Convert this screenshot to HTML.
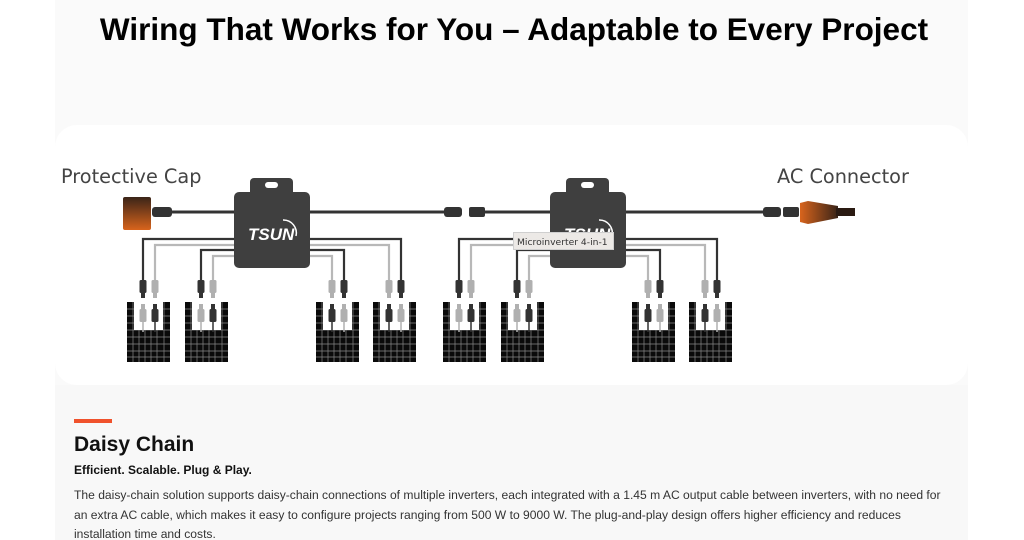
<!DOCTYPE html>
<html><head><meta charset="utf-8"><style>
html,body{margin:0;padding:0;background:#fff;width:1024px;height:540px;overflow:hidden;font-family:"Liberation Sans",sans-serif}
</style></head><body>
<svg width="1024" height="540" viewBox="0 0 1024 540" xmlns="http://www.w3.org/2000/svg" style="position:absolute;left:0;top:0">
<defs>
<linearGradient id="cap" x1="0" y1="0" x2="0" y2="1"><stop offset="0" stop-color="#3a2418"/><stop offset="1" stop-color="#d8641c"/></linearGradient>
<linearGradient id="ac" x1="0" y1="0" x2="1" y2="0"><stop offset="0" stop-color="#d8641c"/><stop offset="1" stop-color="#3a2418"/></linearGradient>
<g id="grid">
<rect x="0" y="0" width="43" height="60" fill="#0a0a0a"/>
<g stroke="#888" stroke-width="0.7">
<line x1="6" y1="0" x2="6" y2="60"/><line x1="12" y1="0" x2="12" y2="60"/><line x1="18" y1="0" x2="18" y2="60"/><line x1="24" y1="0" x2="24" y2="60"/><line x1="30" y1="0" x2="30" y2="60"/><line x1="37" y1="0" x2="37" y2="60"/>
<line x1="0" y1="7" x2="43" y2="7"/><line x1="0" y1="14" x2="43" y2="14"/><line x1="0" y1="21" x2="43" y2="21"/><line x1="0" y1="28" x2="43" y2="28"/><line x1="0" y1="35" x2="43" y2="35"/><line x1="0" y1="42" x2="43" y2="42"/><line x1="0" y1="49" x2="43" y2="49"/><line x1="0" y1="55" x2="43" y2="55"/>
</g>
<rect x="7" y="0" width="29" height="28" fill="#fff"/>
</g>
<g id="plugD"><rect x="-3.5" y="0" width="7" height="13" rx="1.5" fill="#333"/><rect x="-2" y="13" width="4" height="5" fill="#333"/></g>
<g id="plugL"><rect x="-3.5" y="0" width="7" height="13" rx="1.5" fill="#b0b0b0"/><rect x="-2" y="13" width="4" height="5" fill="#b0b0b0"/></g>
<g id="lplugD"><rect x="-2" y="0" width="4" height="5" fill="#333"/><rect x="-3.5" y="5" width="7" height="13" rx="1.5" fill="#333"/><line x1="0" y1="18" x2="0" y2="28" stroke="#333" stroke-width="1.5"/></g>
<g id="lplugL"><rect x="-2" y="0" width="4" height="5" fill="#b0b0b0"/><rect x="-3.5" y="5" width="7" height="13" rx="1.5" fill="#b0b0b0"/><line x1="0" y1="18" x2="0" y2="28" stroke="#b0b0b0" stroke-width="1.5"/></g>
<g id="pA"><use href="#grid"/><use href="#plugD" x="16" y="-22"/><use href="#plugL" x="28" y="-22"/><use href="#lplugL" x="16" y="2"/><use href="#lplugD" x="28" y="2"/></g>
<g id="pB"><use href="#grid"/><use href="#plugL" x="16" y="-22"/><use href="#plugD" x="28" y="-22"/><use href="#lplugD" x="16" y="2"/><use href="#lplugL" x="28" y="2"/></g>
<g id="unit">
<g fill="none" stroke-width="2.2">
<path d="M236 239 H143 V281" stroke="#333"/><path d="M236 245 H155 V281" stroke="#b8b8b8"/>
<path d="M236 250 H201 V281" stroke="#333"/><path d="M236 256 H213 V281" stroke="#b8b8b8"/>
<path d="M308 256 H332 V281" stroke="#b8b8b8"/><path d="M308 250 H344 V281" stroke="#333"/>
<path d="M308 245 H389 V281" stroke="#b8b8b8"/><path d="M308 239 H401 V281" stroke="#333"/>
</g>
<use href="#pA" x="127" y="302"/><use href="#pA" x="185" y="302"/><use href="#pB" x="316" y="302"/><use href="#pB" x="373" y="302"/>
<rect x="250" y="178" width="43" height="22" rx="4" fill="#3f3f3f"/>
<rect x="265" y="182" width="13" height="6" rx="3" fill="#fff"/>
<rect x="234" y="192" width="76" height="76" rx="5" fill="#3f3f3f"/>
<text x="248" y="240" font-family="Liberation Sans,sans-serif" font-weight="bold" font-style="italic" font-size="17" fill="#fff">TSUN</text>
<path d="M283 220 A13 13 0 0 1 296 236" fill="none" stroke="#fff" stroke-width="1.5"/>
</g>
</defs>
<rect x="55" y="0" width="913" height="540" fill="#fafafa"/>
<rect x="55" y="125" width="913" height="260" rx="22" fill="#fff"/>
<rect x="55" y="385" width="913" height="155" fill="#f8f8f8"/>
<text x="514" y="40" text-anchor="middle" font-family="Liberation Sans,sans-serif" font-weight="bold" font-size="31.5" fill="#000">Wiring That Works for You – Adaptable to Every Project</text>
<text x="61" y="183" font-family="DejaVu Sans,sans-serif" font-size="19.3" fill="#444">Protective Cap</text>
<text x="777" y="183" font-family="DejaVu Sans,sans-serif" font-size="19.3" fill="#444">AC Connector</text>
<line x1="160" y1="212" x2="446" y2="212" stroke="#333" stroke-width="3"/>
<line x1="480" y1="212" x2="768" y2="212" stroke="#333" stroke-width="3"/>
<rect x="123" y="197" width="28" height="33" rx="2" fill="url(#cap)"/>
<rect x="152" y="207" width="20" height="10" rx="3" fill="#333"/>
<rect x="444" y="207" width="18" height="10" rx="3" fill="#333"/>
<rect x="469" y="207" width="16" height="10" rx="2" fill="#333"/>
<rect x="763" y="207" width="18" height="10" rx="3" fill="#333"/>
<rect x="783" y="207" width="16" height="10" rx="2" fill="#333"/>
<path d="M800 203 L808 201 L838 206 L838 218 L808 224 L800 222 Z" fill="url(#ac)"/>
<rect x="836" y="208" width="19" height="8" fill="#2a1a12"/>
<use href="#unit"/>
<use href="#unit" x="316"/>
<rect x="513.5" y="232.5" width="100" height="17" fill="#ece9e6" stroke="#cfcfcf"/>
<text x="517" y="245" font-family="DejaVu Sans,sans-serif" font-size="9.2" fill="#333">Microinverter 4-in-1</text>
<rect x="74" y="419" width="38" height="4" fill="#f0522c"/>
<text x="74" y="451" font-family="Liberation Sans,sans-serif" font-weight="bold" font-size="21" fill="#111">Daisy Chain</text>
<text x="74" y="474" font-family="Liberation Sans,sans-serif" font-weight="bold" font-size="12" fill="#111">Efficient. Scalable. Plug &amp; Play.</text>
<g font-family="Liberation Sans,sans-serif" font-size="12.1" fill="#333">
<text x="74" y="499">The daisy-chain solution supports daisy-chain connections of multiple inverters, each integrated with a 1.45 m AC output cable between inverters, with no need for</text>
<text x="74" y="519">an extra AC cable, which makes it easy to configure projects ranging from 500 W to 9000 W. The plug-and-play design offers higher efficiency and reduces</text>
<text x="74" y="538">installation time and costs.</text>
</g>
</svg>
</body></html>
